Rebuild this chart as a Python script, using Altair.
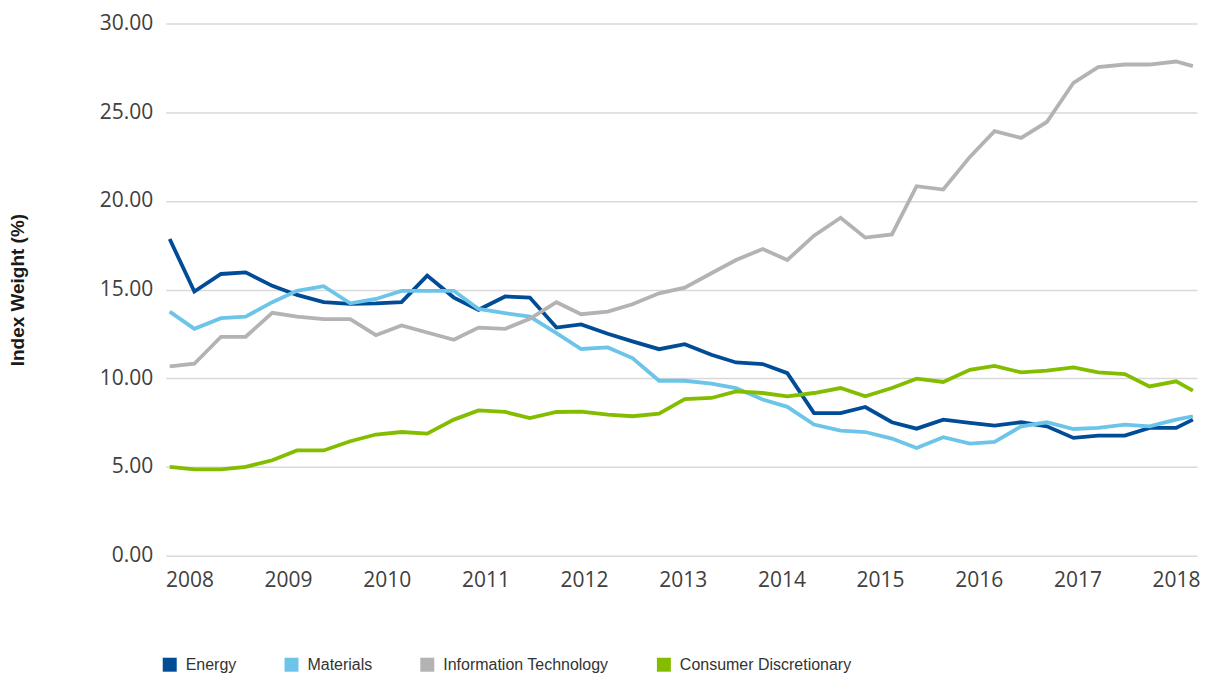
import altair as alt
import pandas as pd

# x values: observation dates as decimal years
dates = [2007.80, 2008.05, 2008.32, 2008.57, 2008.84, 2009.09, 2009.36, 2009.63, 2009.89,
         2010.15, 2010.41, 2010.68, 2010.93, 2011.20, 2011.45, 2011.72, 2011.97, 2012.24,
         2012.49, 2012.76, 2013.02, 2013.29, 2013.54, 2013.81, 2014.06, 2014.33, 2014.60,
         2014.85, 2015.12, 2015.37, 2015.64, 2015.91, 2016.16, 2016.43, 2016.69, 2016.96,
         2017.21, 2017.48, 2017.73, 2018.00, 2018.17]

energy = [17.85, 14.89, 15.88, 15.97, 15.21, 14.70, 14.29, 14.20, 14.22, 14.29, 15.79,
          14.55, 13.86, 14.61, 14.55, 12.86, 13.04, 12.51, 12.08, 11.64, 11.92, 11.33,
          10.89, 10.80, 10.29, 8.04, 8.04, 8.38, 7.52, 7.16, 7.67, 7.48, 7.33, 7.52,
          7.29, 6.64, 6.77, 6.77, 7.20, 7.20, 7.67]
materials = [13.76, 12.79, 13.39, 13.48, 14.29, 14.93, 15.19, 14.23, 14.47, 14.93, 14.93,
             14.93, 13.91, 13.67, 13.48, 12.54, 11.65, 11.74, 11.14, 9.86, 9.86, 9.70,
             9.45, 8.80, 8.39, 7.39, 7.05, 6.97, 6.60, 6.07, 6.68, 6.32, 6.42, 7.29,
             7.52, 7.14, 7.20, 7.39, 7.29, 7.67, 7.86]
info_tech = [10.67, 10.82, 12.34, 12.34, 13.69, 13.48, 13.33, 13.33, 12.43, 12.98, 12.58,
             12.17, 12.86, 12.79, 13.35, 14.29, 13.61, 13.76, 14.17, 14.79, 15.11, 15.92,
             16.67, 17.29, 16.67, 18.04, 19.05, 17.93, 18.11, 20.83, 20.64, 22.48, 23.93,
             23.55, 24.45, 26.66, 27.54, 27.69, 27.69, 27.86, 27.60]
cons_disc = [5.01, 4.86, 4.86, 5.01, 5.38, 5.93, 5.93, 6.45, 6.83, 6.97, 6.88, 7.67,
             8.19, 8.10, 7.76, 8.10, 8.12, 7.95, 7.86, 8.01, 8.83, 8.89, 9.26, 9.17,
             8.98, 9.17, 9.45, 8.98, 9.45, 9.98, 9.79, 10.48, 10.70, 10.33, 10.43, 10.61,
             10.33, 10.24, 9.54, 9.83, 9.30]

series_names = ["Energy", "Materials", "Information Technology", "Consumer Discretionary"]
series_colors = ["#004C97", "#6CC5E9", "#B3B3B3", "#84BD00"]
year_ticks = list(range(2008, 2019))
y_ticks = [0, 5, 10, 15, 20, 25, 30]

rows = []
for k, (name, vals) in enumerate(zip(series_names, [energy, materials, info_tech, cons_disc])):
    for d, v in zip(dates, vals):
        rows.append({"date": d, "value": v, "sector": name, "order": k})
df = pd.DataFrame(rows)

tick_font = "Open Sans"
legend_font = "Liberation Sans"

chart = alt.Chart(df).mark_line(strokeWidth=3.8, strokeJoin="miter").encode(
    x=alt.X("date:Q",
            scale=alt.Scale(domain=[2007.76, 2018.212], nice=False, zero=False),
            axis=alt.Axis(values=year_ticks, format="d", title=None, grid=False,
                          domain=False, ticks=False, labelFontSize=21, labelColor="#404040",
                          labelFont=tick_font, labelPadding=14)),
    y=alt.Y("value:Q",
            scale=alt.Scale(domain=[0, 30], nice=False),
            axis=alt.Axis(values=y_ticks, format=".2f", title="Index Weight (%)",
                          domain=False, ticks=False, gridColor="#D9D9D9", gridWidth=1.5,
                          labelFontSize=21, labelColor="#404040", labelFont=tick_font,
                          labelPadding=13, titleFont=legend_font, titleFontSize=19,
                          titleFontWeight="bold", titleColor="#1a1a1a",
                          titleX=-148, titleBaseline="middle")),
    color=alt.Color("sector:N",
                    scale=alt.Scale(domain=series_names, range=series_colors),
                    legend=alt.Legend(title=None, orient="none", legendX=-4, legendY=634,
                                      direction="horizontal", symbolType="square",
                                      symbolSize=49, symbolStrokeWidth=7, padding=0,
                                      labelFont=legend_font, labelFontSize=16,
                                      labelColor="#333333", labelOffset=8,
                                      labelLimit=0, columnPadding=37)),
    order=alt.Order("order:Q"),
    detail="sector:N",
).properties(
    width=1033, height=533,
    padding={"left": 1, "top": 4, "right": 0, "bottom": 0}
).configure_view(stroke=None)

chart.save("out.html", embed_options={"renderer": "svg", "actions": False})
